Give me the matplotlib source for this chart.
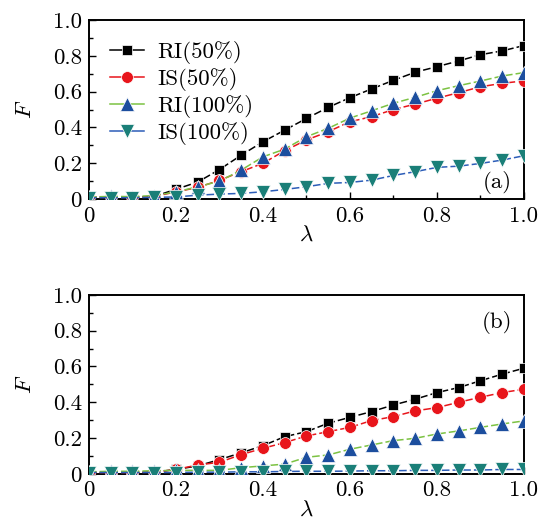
import matplotlib
matplotlib.use("Agg")
import matplotlib.pyplot as plt
import numpy as np

lam = [0.0, 0.05, 0.1, 0.15, 0.2, 0.25, 0.3, 0.35, 0.4, 0.45, 0.5,
       0.55, 0.6, 0.65, 0.7, 0.75, 0.8, 0.85, 0.9, 0.95, 1.0]

labels = ["RI(50%)", "IS(50%)", "RI(100%)", "IS(100%)"]

# panel (a)
a_ri50 = [0.01, 0.012, 0.01, 0.015, 0.055, 0.095, 0.165, 0.245, 0.32, 0.385, 0.45,
          0.512, 0.566, 0.615, 0.663, 0.708, 0.739, 0.771, 0.806, 0.827, 0.857]
a_is50 = [0.01, 0.012, 0.01, 0.015, 0.04, 0.065, 0.105, 0.153, 0.2, 0.27, 0.33,
          0.376, 0.432, 0.46, 0.50, 0.53, 0.563, 0.594, 0.627, 0.646, 0.66]
a_ri100 = [0.012, 0.015, 0.014, 0.02, 0.04, 0.069, 0.10, 0.162, 0.236, 0.279, 0.348,
           0.395, 0.452, 0.493, 0.535, 0.568, 0.605, 0.633, 0.659, 0.687, 0.706]
a_is100 = [0.008, 0.008, 0.008, 0.01, 0.012, 0.022, 0.028, 0.032, 0.041, 0.054, 0.069,
           0.088, 0.093, 0.106, 0.132, 0.153, 0.177, 0.184, 0.199, 0.218, 0.242]

# panel (b)
b_ri50 = [0.008, 0.008, 0.008, 0.01, 0.025, 0.045, 0.08, 0.118, 0.158, 0.208, 0.236,
          0.283, 0.316, 0.348, 0.385, 0.417, 0.454, 0.482, 0.52, 0.557, 0.59]
b_is50 = [0.008, 0.008, 0.008, 0.01, 0.025, 0.05, 0.065, 0.108, 0.143, 0.175, 0.212,
          0.236, 0.26, 0.298, 0.32, 0.352, 0.37, 0.40, 0.428, 0.454, 0.473]
b_ri100 = [0.012, 0.015, 0.015, 0.018, 0.02, 0.02, 0.02, 0.035, 0.045, 0.055, 0.093,
           0.106, 0.138, 0.162, 0.186, 0.199, 0.223, 0.24, 0.26, 0.279, 0.296]
b_is100 = [0.008, 0.008, 0.008, 0.008, 0.008, 0.01, 0.01, 0.012, 0.012, 0.014, 0.015,
           0.015, 0.016, 0.018, 0.018, 0.02, 0.02, 0.022, 0.022, 0.025, 0.025]

plt.rcParams['font.family'] = ['cmr10', 'DejaVu Serif']
plt.rcParams['mathtext.fontset'] = 'cm'
plt.rcParams['axes.formatter.use_mathtext'] = True
plt.rcParams['axes.unicode_minus'] = False

styles = [
    dict(marker='s', color='black', mfc='black', ms=7.5),
    dict(marker='o', color='#e8151b', mfc='#e8151b', ms=8.5),
    dict(marker='^', color='#7cc242', mfc='#1c4e9e', ms=9.5),
    dict(marker='v', color='#2c5db8', mfc='#1a7f78', ms=9.5),
]

FS = 16.5

fig = plt.figure(figsize=(5.39, 5.24), dpi=100)
ax1 = fig.add_axes([0.165, 0.620, 0.807, 0.342])
ax2 = fig.add_axes([0.165, 0.0955, 0.807, 0.342])

def draw(ax, series, tag, tagy, legend):
    for ys, st, lab in zip(series, styles, labels):
        ax.plot(lam, ys, linestyle=(0, (5, 2)), lw=1.1, color=st['color'],
                marker=st['marker'], markersize=st['ms'], markerfacecolor=st['mfc'],
                markeredgecolor='white', markeredgewidth=0.5, label=lab,
                clip_on=True, zorder=3)
    ax.set_xlim(0, 1.0)
    ax.set_ylim(0, 1.0)
    ax.set_xticks([0, 0.2, 0.4, 0.6, 0.8, 1.0])
    ax.set_xticklabels(['0', '0.2', '0.4', '0.6', '0.8', '1.0'])
    ax.set_yticks([0, 0.2, 0.4, 0.6, 0.8, 1.0])
    ax.set_yticklabels(['0', '0.2', '0.4', '0.6', '0.8', '1.0'])
    ax.set_xticks(np.arange(0.1, 1.0, 0.2), minor=True)
    ax.set_yticks(np.arange(0.1, 1.0, 0.2), minor=True)
    ax.tick_params(which='both', direction='in', labelsize=FS, top=False, right=False)
    ax.tick_params(which='major', length=5, width=1.0, pad=5)
    ax.tick_params(which='minor', length=3, width=1.0)
    for sp in ax.spines.values():
        sp.set_linewidth(1.4)
    ax.set_xlabel(r'$\lambda$', fontsize=FS, labelpad=0)
    ax.set_ylabel(r'$F$', fontsize=FS, labelpad=13)
    ax.text(0.938, tagy, tag, transform=ax.transAxes, fontsize=FS,
            ha='center', va='center')
    if legend:
        ax.legend(handles=[
            plt.Line2D([], [], linestyle='-', lw=1.1, color=st['color'], marker=st['marker'],
                       markersize=st['ms'], markerfacecolor=st['mfc'],
                       markeredgecolor='white', markeredgewidth=0.5)
            for st in styles], labels=labels,
            loc='upper left', bbox_to_anchor=(0.0, 1.0), frameon=False, fontsize=FS,
            handlelength=1.5, handletextpad=0.6, labelspacing=0.18, borderaxespad=0.5,
            borderpad=0.4)

draw(ax1, [a_ri50, a_is50, a_ri100, a_is100], '(a)', 0.095, True)
draw(ax2, [b_ri50, b_is50, b_ri100, b_is100], '(b)', 0.844, False)

fig.savefig('out.png', dpi=100)
